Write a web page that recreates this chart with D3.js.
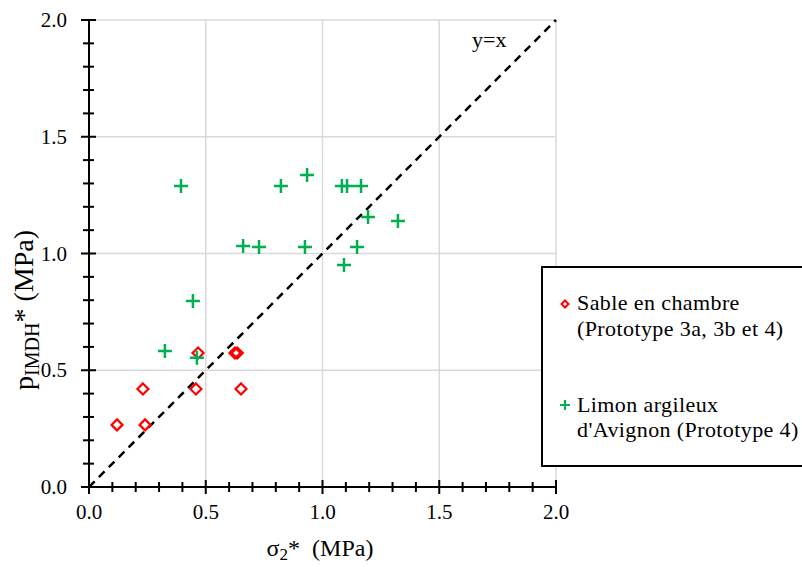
<!DOCTYPE html>
<html><head><meta charset="utf-8">
<script src="https://cdn.jsdelivr.net/npm/d3@7"></script>
<style>body{margin:0;background:#fff}svg{display:block}</style>
</head><body>
<script>
const sableX = [0.12, 0.24, 0.231, 0.458, 0.651, 0.467, 0.625, 0.635];
const sableY = [0.266, 0.266, 0.42, 0.42, 0.42, 0.574, 0.574, 0.574];
const limonX = [0.325, 0.394, 0.445, 0.462, 0.66, 0.728, 0.822, 0.934, 0.925, 1.083, 1.105, 1.165, 1.195, 1.323, 1.148, 1.092];
const limonY = [0.582, 1.289, 0.797, 0.553, 1.032, 1.028, 1.289, 1.336, 1.028, 1.289, 1.289, 1.289, 1.156, 1.139, 1.028, 0.951];
const majorTicks = [0, 0.5, 1.0, 1.5, 2.0];
const legendLabels = [["Sable en chambre", "(Prototype 3a, 3b et 4)"], ["Limon argileux", "d'Avignon (Prototype 4)"]];

const W = 802, H = 567;
const FONT = "'Liberation Serif', 'Times New Roman', serif";
const svg = d3.select("body").append("svg").attr("width", W).attr("height", H)
  .attr("font-family", FONT).style("font-family", FONT);
const x = d3.scaleLinear().domain([0, 2]).range([89, 556]);
const y = d3.scaleLinear().domain([0, 2]).range([487, 20]);
const minor = d3.range(0, 21).map(i => i / 10);

// gridlines
const g = svg.append("g");
g.selectAll(".gx").data(majorTicks.slice(1)).join("line")
  .attr("x1", d => x(d)).attr("x2", d => x(d)).attr("y1", y(0)).attr("y2", y(2))
  .attr("stroke", "#d9d9d9").attr("stroke-width", 1.5);
g.selectAll(".gy").data(majorTicks.slice(1)).join("line")
  .attr("y1", d => y(d)).attr("y2", d => y(d)).attr("x1", x(0)).attr("x2", x(2))
  .attr("stroke", "#d9d9d9").attr("stroke-width", 1.5);

// y=x dashed line
svg.append("line").attr("x1", x(0)).attr("y1", y(0)).attr("x2", x(2)).attr("y2", y(2))
  .attr("stroke", "#000").attr("stroke-width", 2.5).attr("stroke-dasharray", "8,6");
svg.append("text").attr("x", 472).attr("y", 47).attr("font-size", 22).text("y=x");

// axes
const xAxisG = svg.append("g").attr("transform", `translate(0,${y(0)})`);
xAxisG.append("line").attr("x1", x(0)).attr("x2", x(2)).attr("stroke", "#000").attr("stroke-width", 2);
xAxisG.selectAll(".mt").data(minor).join("line")
  .attr("x1", d => x(d)).attr("x2", d => x(d))
  .attr("y1", d => (Math.round(d * 10) % 5 === 0) ? -7 : -5)
  .attr("y2", d => (Math.round(d * 10) % 5 === 0) ? 7 : 5)
  .attr("stroke", "#000").attr("stroke-width", 2);
xAxisG.selectAll(".tl").data(majorTicks).join("text")
  .attr("x", d => x(d)).attr("y", 32).attr("text-anchor", "middle").attr("font-size", 21)
  .text(d => d.toFixed(1));

const yAxisG = svg.append("g").attr("transform", `translate(${x(0)},0)`);
yAxisG.append("line").attr("y1", y(0)).attr("y2", y(2)).attr("stroke", "#000").attr("stroke-width", 2);
yAxisG.selectAll(".mt").data(minor).join("line")
  .attr("y1", d => y(d)).attr("y2", d => y(d))
  .attr("x1", d => (Math.round(d * 10) % 5 === 0) ? -8 : -6)
  .attr("x2", d => (Math.round(d * 10) % 5 === 0) ? 7 : 5)
  .attr("stroke", "#000").attr("stroke-width", 2);
yAxisG.selectAll(".tl").data(majorTicks).join("text")
  .attr("x", -22).attr("y", d => y(d) + 7).attr("text-anchor", "end").attr("font-size", 21)
  .text(d => d.toFixed(1));

// axis titles
const xt = svg.append("text").attr("x", 320).attr("y", 556).attr("text-anchor", "middle").attr("font-size", 24);
xt.append("tspan").text("σ");
xt.append("tspan").attr("font-size", 17).attr("dy", 4).text("2");
xt.append("tspan").attr("dy", -4).text("*\u00a0\u00a0(MPa)");

const yt = svg.append("text").attr("transform", "translate(33,310) rotate(-90)").attr("text-anchor", "middle").attr("font-size", 28);
yt.append("tspan").text("p");
yt.append("tspan").attr("font-size", 20).attr("dy", 6).text("IMDH");
yt.append("tspan").attr("dy", -6).text("* (MPa)");

// markers
const diamond = (cx, cy, r) => `M${cx},${cy - r}L${cx + r},${cy}L${cx},${cy + r}L${cx - r},${cy}Z`;
svg.append("g").selectAll("path").data(sableX.map((v, i) => [v, sableY[i]])).join("path")
  .attr("d", d => diamond(x(d[0]), y(d[1]), 5.5))
  .attr("fill", "none").attr("stroke", "#ff0000").attr("stroke-width", 2.2);
const plus = (cx, cy, r) => `M${cx - r},${cy}H${cx + r}M${cx},${cy - r}V${cy + r}`;
svg.append("g").selectAll("path").data(limonX.map((v, i) => [v, limonY[i]])).join("path")
  .attr("d", d => plus(x(d[0]), y(d[1]), 7))
  .attr("fill", "none").attr("stroke", "#00b050").attr("stroke-width", 2.5);

// legend
const lg = svg.append("g");
lg.append("rect").attr("x", 542).attr("y", 267).attr("width", 280).attr("height", 199)
  .attr("fill", "#fff").attr("stroke", "#000").attr("stroke-width", 2);
lg.append("path").attr("d", diamond(565, 304, 3.5)).attr("fill", "none").attr("stroke", "#ff0000").attr("stroke-width", 2);
lg.append("path").attr("d", plus(565, 405, 5)).attr("fill", "none").attr("stroke", "#00b050").attr("stroke-width", 2.2);
const ly = [[310, 336], [412, 437]];
legendLabels.forEach((lines, i) => {
  lines.forEach((t, j) => {
    lg.append("text").attr("x", 577).attr("y", ly[i][j]).attr("font-size", 22)
      .attr("letter-spacing", 0.4).text(t);
  });
});
</script>
</body></html>
